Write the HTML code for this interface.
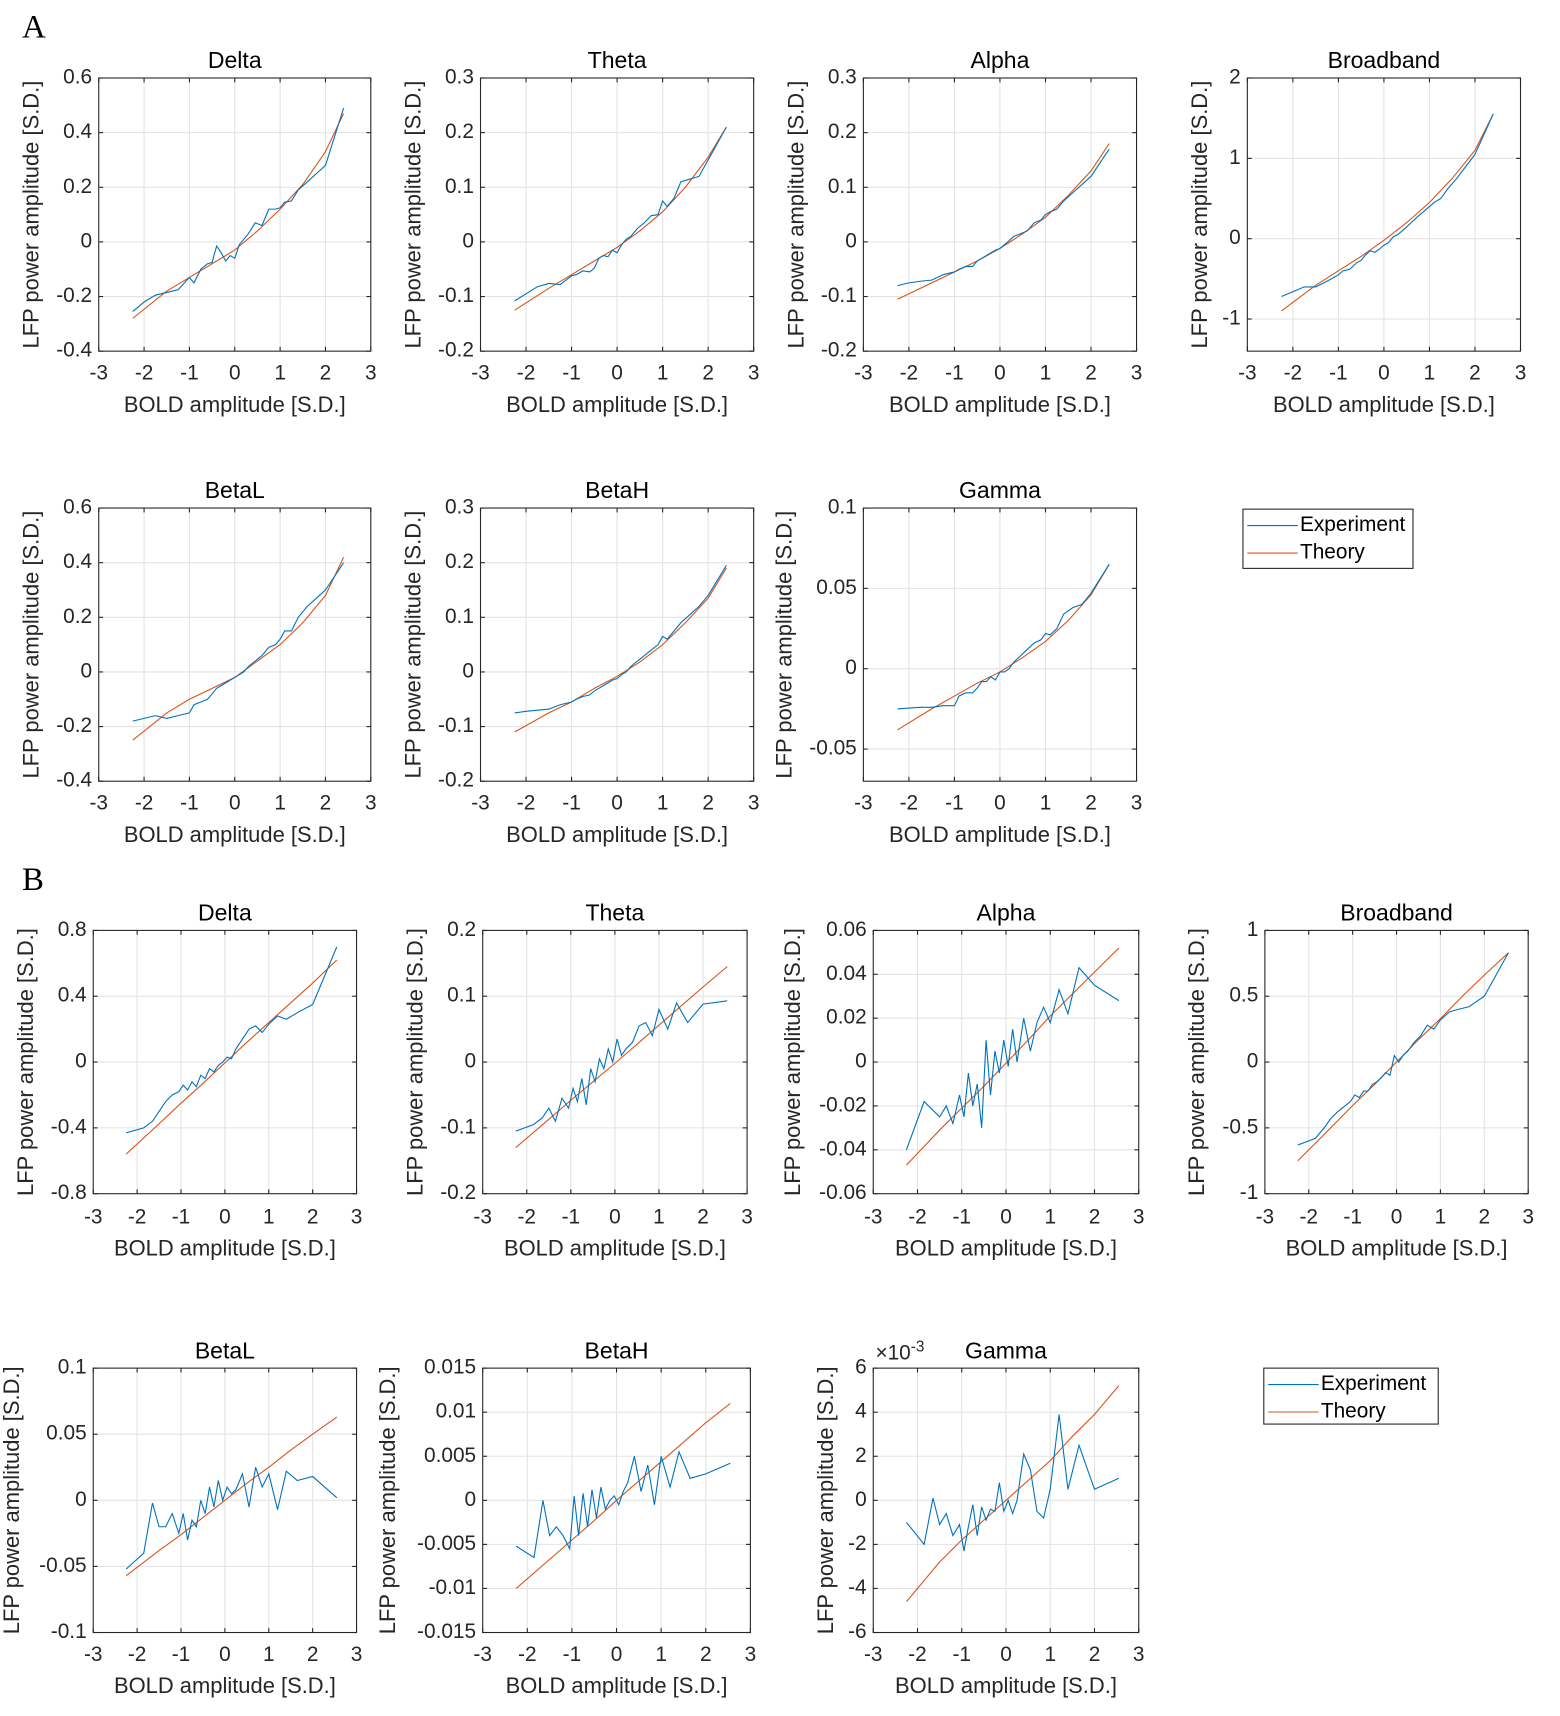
<!DOCTYPE html>
<html><head><meta charset="utf-8"><style>
html,body{margin:0;padding:0;background:#fff;}
svg{display:block;font-family:"Liberation Sans",Arial,sans-serif;}
</style></head><body>
<svg id="fig" width="1560" height="1716" viewBox="0 0 1422 1564" xmlns="http://www.w3.org/2000/svg">
<rect width="1422" height="1564" fill="#fff"/>
<text x="20" y="34" font-family="Liberation Serif,serif" font-size="30">A</text>
<text x="20" y="811" font-family="Liberation Serif,serif" font-size="30">B</text>
</svg>
<script>
// shared x grids
const xsA = [-2.25,-2,-1.75,-1.5,-1.25,-1,-0.9,-0.75,-0.6,-0.5,-0.4,-0.3,-0.2,-0.1,0,0.1,0.2,0.3,0.45,0.6,0.75,0.9,1.0,1.1,1.25,1.4,1.6,1.8,2.0,2.4];
const xtA = [-2.25,-1.5,-1,-0.5,0,0.5,1,1.5,2,2.4];
const xsB = [-2.25,-1.85,-1.65,-1.5,-1.35,-1.2,-1.05,-0.95,-0.85,-0.75,-0.65,-0.55,-0.45,-0.35,-0.25,-0.15,-0.05,0.05,0.15,0.25,0.4,0.55,0.7,0.85,1.0,1.2,1.4,1.65,2.0,2.55];
const xtB = [-2.25,-1.5,-1,-0.5,0,0.5,1,1.5,2,2.55];
const xTicks = [-3,-2,-1,0,1,2,3];

// A panels
const aDeltaExp = [-0.255,-0.22,-0.195,-0.185,-0.175,-0.13,-0.15,-0.1,-0.08,-0.075,-0.015,-0.04,-0.07,-0.05,-0.06,-0.01,0.01,0.03,0.07,0.06,0.12,0.12,0.125,0.145,0.15,0.19,0.22,0.25,0.28,0.49];
const aDeltaThe = [-0.28,-0.18,-0.13,-0.08,-0.03,0.04,0.12,0.21,0.33,0.47];
const aThetaExp = [-0.108,-0.095,-0.082,-0.076,-0.078,-0.062,-0.06,-0.053,-0.055,-0.048,-0.03,-0.025,-0.027,-0.015,-0.02,-0.005,0.005,0.01,0.025,0.035,0.048,0.05,0.075,0.065,0.08,0.11,0.115,0.12,0.15,0.21];
const aThetaThe = [-0.125,-0.085,-0.06,-0.035,-0.01,0.02,0.055,0.1,0.155,0.21];
const aAlphaExp = [-0.08,-0.075,-0.072,-0.07,-0.06,-0.055,-0.05,-0.045,-0.045,-0.035,-0.03,-0.025,-0.02,-0.015,-0.012,-0.005,0.002,0.01,0.015,0.02,0.035,0.04,0.05,0.055,0.06,0.075,0.09,0.105,0.12,0.17];
const aAlphaThe = [-0.105,-0.075,-0.055,-0.035,-0.012,0.015,0.045,0.085,0.13,0.18];
const aBroadExp = [-0.72,-0.66,-0.6,-0.6,-0.53,-0.45,-0.4,-0.38,-0.3,-0.27,-0.2,-0.15,-0.17,-0.13,-0.08,-0.05,0.02,0.05,0.12,0.2,0.28,0.35,0.4,0.45,0.5,0.62,0.75,0.9,1.05,1.55];
const aBroadThe = [-0.9,-0.58,-0.4,-0.22,-0.02,0.2,0.45,0.75,1.1,1.55];
const aBetaLExp = [-0.18,-0.17,-0.16,-0.17,-0.16,-0.15,-0.12,-0.11,-0.1,-0.08,-0.06,-0.05,-0.04,-0.03,-0.02,-0.01,0.0,0.02,0.04,0.06,0.09,0.1,0.12,0.15,0.15,0.2,0.24,0.27,0.3,0.4];
const aBetaLThe = [-0.25,-0.15,-0.1,-0.06,-0.02,0.04,0.1,0.18,0.28,0.42];
const aBetaHExp = [-0.075,-0.072,-0.07,-0.068,-0.06,-0.055,-0.05,-0.045,-0.042,-0.035,-0.03,-0.025,-0.02,-0.015,-0.012,-0.005,0.0,0.01,0.02,0.03,0.04,0.05,0.065,0.06,0.075,0.09,0.105,0.12,0.14,0.195];
const aBetaHThe = [-0.11,-0.075,-0.055,-0.03,-0.008,0.018,0.05,0.09,0.135,0.19];
const aGammaExp = [-0.025,-0.0245,-0.024,-0.024,-0.023,-0.023,-0.017,-0.015,-0.015,-0.012,-0.008,-0.008,-0.005,-0.007,-0.002,-0.002,0.0,0.004,0.008,0.012,0.016,0.018,0.022,0.021,0.025,0.034,0.038,0.04,0.047,0.065];
const aGammaThe = [-0.038,-0.025,-0.017,-0.009,-0.002,0.007,0.017,0.03,0.046,0.065];

// B panels
const bDeltaExp = [-0.43,-0.4,-0.36,-0.3,-0.24,-0.2,-0.18,-0.14,-0.17,-0.12,-0.15,-0.08,-0.1,-0.04,-0.06,-0.02,0.0,0.03,0.02,0.08,0.14,0.2,0.22,0.18,0.23,0.28,0.26,0.3,0.35,0.7];
const bDeltaThe = [-0.56,-0.375,-0.25,-0.13,-0.005,0.12,0.24,0.36,0.48,0.62];
const bThetaExp = [-0.105,-0.095,-0.085,-0.07,-0.09,-0.055,-0.07,-0.04,-0.06,-0.025,-0.065,-0.01,-0.03,0.005,-0.01,0.02,0.0,0.035,0.01,0.02,0.03,0.055,0.06,0.04,0.08,0.05,0.09,0.06,0.088,0.093];
const bThetaThe = [-0.13,-0.087,-0.058,-0.03,-0.002,0.027,0.056,0.085,0.114,0.145];
const bAlphaExp = [-0.04,-0.018,-0.022,-0.025,-0.02,-0.028,-0.015,-0.025,-0.005,-0.02,-0.01,-0.03,0.01,-0.015,0.005,-0.005,0.01,-0.002,0.015,0.0,0.02,0.005,0.018,0.025,0.018,0.033,0.022,0.043,0.035,0.028];
const bAlphaThe = [-0.047,-0.031,-0.021,-0.011,-0.0005,0.01,0.021,0.031,0.041,0.052];
const bBroadExp = [-0.63,-0.58,-0.5,-0.43,-0.38,-0.34,-0.3,-0.25,-0.27,-0.22,-0.22,-0.17,-0.15,-0.12,-0.08,-0.1,0.05,0.0,0.05,0.08,0.15,0.2,0.28,0.25,0.32,0.38,0.4,0.42,0.5,0.83];
const bBroadThe = [-0.75,-0.5,-0.33,-0.17,0.0,0.17,0.33,0.5,0.66,0.83];
const bBetaLExp = [-0.052,-0.04,-0.002,-0.02,-0.02,-0.01,-0.025,-0.01,-0.03,-0.015,-0.02,0.0,-0.01,0.01,-0.005,0.015,0.0,0.01,0.005,0.008,0.02,-0.005,0.025,0.01,0.02,-0.007,0.022,0.015,0.018,0.002];
const bBetaLThe = [-0.057,-0.038,-0.026,-0.013,0.0,0.013,0.025,0.038,0.05,0.063];
const bBetaHExp = [-0.0052,-0.0065,0.0,-0.004,-0.003,-0.004,-0.0055,0.0005,-0.004,0.0008,-0.003,0.0012,-0.002,0.0015,-0.001,0.0,0.0005,-0.0005,0.001,0.002,0.005,0.001,0.004,-0.0005,0.005,0.0015,0.0055,0.0025,0.003,0.0042];
const bBetaHThe = [-0.01,-0.0067,-0.0045,-0.0023,0.0,0.0022,0.0044,0.0066,0.0088,0.011];
const bGammaExp = [-1.0,-2.0,0.1,-1.1,-0.6,-1.6,-1.1,-2.3,-1.2,-0.2,-1.6,-0.3,-0.9,-0.4,-0.5,0.8,-0.5,0.0,-0.6,0.0,2.1,1.4,-0.5,-0.8,0.5,3.9,0.5,2.5,0.5,1.0];
const bGammaThe = [-4.6,-2.8,-1.8,-0.9,0.0,0.9,1.8,2.9,3.9,5.2];

const panels = [
 {n:'a-delta',t:'Delta',L:90,R:338,T:71,B:320,ylim:[-0.4,0.6],yt:[-0.4,-0.2,0,0.2,0.4,0.6],ylab:30,xt:341,xl:370,xs:xsA,ex:aDeltaExp,tx:xtA,th:aDeltaThe},
 {n:'a-theta',t:'Theta',L:438,R:687,T:71,B:320,ylim:[-0.2,0.3],yt:[-0.2,-0.1,0,0.1,0.2,0.3],ylab:378,xt:341,xl:370,xs:xsA,ex:aThetaExp,tx:xtA,th:aThetaThe},
 {n:'a-alpha',t:'Alpha',L:787,R:1036,T:71,B:320,ylim:[-0.2,0.3],yt:[-0.2,-0.1,0,0.1,0.2,0.3],ylab:727,xt:341,xl:370,xs:xsA,ex:aAlphaExp,tx:xtA,th:aAlphaThe},
 {n:'a-broadband',t:'Broadband',L:1137,R:1386,T:71,B:320,ylim:[-1.4,2],yt:[-1,0,1,2],ylab:1095,xt:341,xl:370,xs:xsA,ex:aBroadExp,tx:xtA,th:aBroadThe},
 {n:'a-betal',t:'BetaL',L:90,R:338,T:463,B:712,ylim:[-0.4,0.6],yt:[-0.4,-0.2,0,0.2,0.4,0.6],ylab:30,xt:733,xl:762,xs:xsA,ex:aBetaLExp,tx:xtA,th:aBetaLThe},
 {n:'a-betah',t:'BetaH',L:438,R:687,T:463,B:712,ylim:[-0.2,0.3],yt:[-0.2,-0.1,0,0.1,0.2,0.3],ylab:378,xt:733,xl:762,xs:xsA,ex:aBetaHExp,tx:xtA,th:aBetaHThe},
 {n:'a-gamma',t:'Gamma',L:787,R:1036,T:463,B:712,ylim:[-0.07,0.1],yt:[-0.05,0,0.05,0.1],ylab:716,xt:733,xl:762,xs:xsA,ex:aGammaExp,tx:xtA,th:aGammaThe},
 {n:'b-delta',t:'Delta',L:85,R:325,T:848,B:1088,ylim:[-0.8,0.8],yt:[-0.8,-0.4,0,0.4,0.8],ylab:25,xt:1110,xl:1139,xs:xsB,ex:bDeltaExp,tx:xtB,th:bDeltaThe},
 {n:'b-theta',t:'Theta',L:440,R:681,T:848,B:1088,ylim:[-0.2,0.2],yt:[-0.2,-0.1,0,0.1,0.2],ylab:380,xt:1110,xl:1139,xs:xsB,ex:bThetaExp,tx:xtB,th:bThetaThe},
 {n:'b-alpha',t:'Alpha',L:796,R:1038,T:848,B:1088,ylim:[-0.06,0.06],yt:[-0.06,-0.04,-0.02,0,0.02,0.04,0.06],ylab:724,xt:1110,xl:1139,xs:xsB,ex:bAlphaExp,tx:xtB,th:bAlphaThe},
 {n:'b-broadband',t:'Broadband',L:1153,R:1393,T:848,B:1088,ylim:[-1,1],yt:[-1,-0.5,0,0.5,1],ylab:1092,xt:1110,xl:1139,xs:xsB,ex:bBroadExp,tx:xtB,th:bBroadThe},
 {n:'b-betal',t:'BetaL',L:85,R:325,T:1247,B:1488,ylim:[-0.1,0.1],yt:[-0.1,-0.05,0,0.05,0.1],ylab:12,xt:1509,xl:1538,xs:xsB,ex:bBetaLExp,tx:xtB,th:bBetaLThe},
 {n:'b-betah',t:'BetaH',L:440,R:684,T:1247,B:1488,ylim:[-0.015,0.015],yt:[-0.015,-0.01,-0.005,0,0.005,0.01,0.015],ylab:355,xt:1509,xl:1538,xs:xsB,ex:bBetaHExp,tx:xtB,th:bBetaHThe},
 {n:'b-gamma',t:'Gamma',L:796,R:1038,T:1247,B:1488,ylim:[-6,6],yt:[-6,-4,-2,0,2,4,6],ylab:754,xt:1509,xl:1538,xs:xsB,ex:bGammaExp,tx:xtB,th:bGammaThe,exp3:true}
];

const svg = document.getElementById('fig');
const NS = 'http://www.w3.org/2000/svg';
function mk(tag, attrs, parent){const e=document.createElementNS(NS,tag);for(const k in attrs)e.setAttribute(k,attrs[k]);(parent||svg).appendChild(e);return e;}
function fmt(v){return String(+v.toFixed(4));}

panels.forEach(p=>{
  const g = mk('g',{});
  
  
  const sx = v => p.L + (v+3)/6*(p.R-p.L);
  const sy = v => p.B - (v-p.ylim[0])/(p.ylim[1]-p.ylim[0])*(p.B-p.T);
  mk('rect',{x:p.L,y:p.T,width:p.R-p.L,height:p.B-p.T,fill:'#fff'},g);
  xTicks.forEach(v=>{
    if(v>-3&&v<3){const l=mk('line',{x1:sx(v),x2:sx(v),y1:p.T,y2:p.B,stroke:'#e3e3e3','stroke-width':1},g);
    }
    mk('line',{x1:sx(v),x2:sx(v),y1:p.B,y2:p.B-4,stroke:'#262626','stroke-width':1},g);
    mk('line',{x1:sx(v),x2:sx(v),y1:p.T,y2:p.T+4,stroke:'#262626','stroke-width':1},g);
    const t=mk('text',{x:sx(v),y:p.xt,'font-size':19,'text-anchor':'middle',fill:'#262626','dominant-baseline':'middle'},g);
    t.textContent=fmt(v);
    
    
  });
  p.yt.forEach(v=>{
    if(v>p.ylim[0]&&v<p.ylim[1]){const l=mk('line',{x1:p.L,x2:p.R,y1:sy(v),y2:sy(v),stroke:'#e3e3e3','stroke-width':1},g);
    }
    mk('line',{x1:p.L,x2:p.L+4,y1:sy(v),y2:sy(v),stroke:'#262626'},g);
    mk('line',{x1:p.R,x2:p.R-4,y1:sy(v),y2:sy(v),stroke:'#262626'},g);
    const t=mk('text',{x:p.L-6,y:sy(v),'font-size':19,'text-anchor':'end',fill:'#262626','dominant-baseline':'middle'},g);
    t.textContent=fmt(v);
    
    
  });
  const box=mk('rect',{x:p.L,y:p.T,width:p.R-p.L,height:p.B-p.T,fill:'none',stroke:'#262626','stroke-width':1},g);
  
  const th=mk('polyline',{points:p.tx.map((x,i)=>sx(x)+','+sy(p.th[i])).join(' '),fill:'none',stroke:'#d95319','stroke-width':1},g);
  
  
  const ex=mk('polyline',{points:p.xs.map((x,i)=>sx(x)+','+sy(p.ex[i])).join(' '),fill:'none',stroke:'#0072bd','stroke-width':1},g);
  
  
  const tt=mk('text',{x:(p.L+p.R)/2,y:p.T-9,'font-size':21,'text-anchor':'middle',fill:'#000'},g);
  tt.textContent=p.t;
  
  
  const xl=mk('text',{x:(p.L+p.R)/2,y:p.xl,'font-size':20,'text-anchor':'middle',fill:'#262626','dominant-baseline':'middle'},g);
  xl.textContent='BOLD amplitude [S.D.]';
  
  
  const cy=(p.T+p.B)/2;
  const yl=mk('text',{x:p.ylab,y:cy,'font-size':20,'text-anchor':'middle',fill:'#262626','dominant-baseline':'middle',transform:'rotate(-90 '+p.ylab+' '+cy+')'},g);
  yl.textContent='LFP power amplitude [S.D.]';
  
  
  if(p.exp3){
    const e=mk('text',{x:p.L+2,y:p.T-8,'font-size':19,fill:'#262626'},g);
    e.innerHTML='×10<tspan dy="-7" font-size="14">-3</tspan>';
    
    
  }
});

function legend(x,y,w,h,name){
  const g=mk('g',{});
  
  
  mk('rect',{x:x,y:y,width:w,height:h,fill:'#fff',stroke:'#262626','stroke-width':1},g);
  [['Experiment','#0072bd'],['Theory','#d95319']].forEach((it,i)=>{
    const yy=y+15+i*25;
    mk('line',{x1:x+4,x2:x+50,y1:yy,y2:yy,stroke:it[1],'stroke-width':1},g);
    const t=mk('text',{x:x+52,y:yy,'font-size':19,fill:'#000','dominant-baseline':'middle'},g);
    t.textContent=it[0];
    
    
  });
}
legend(1133,464,155,54,'legend-a');
legend(1152,1247,159,51,'legend-b');
</script>
</body></html>
